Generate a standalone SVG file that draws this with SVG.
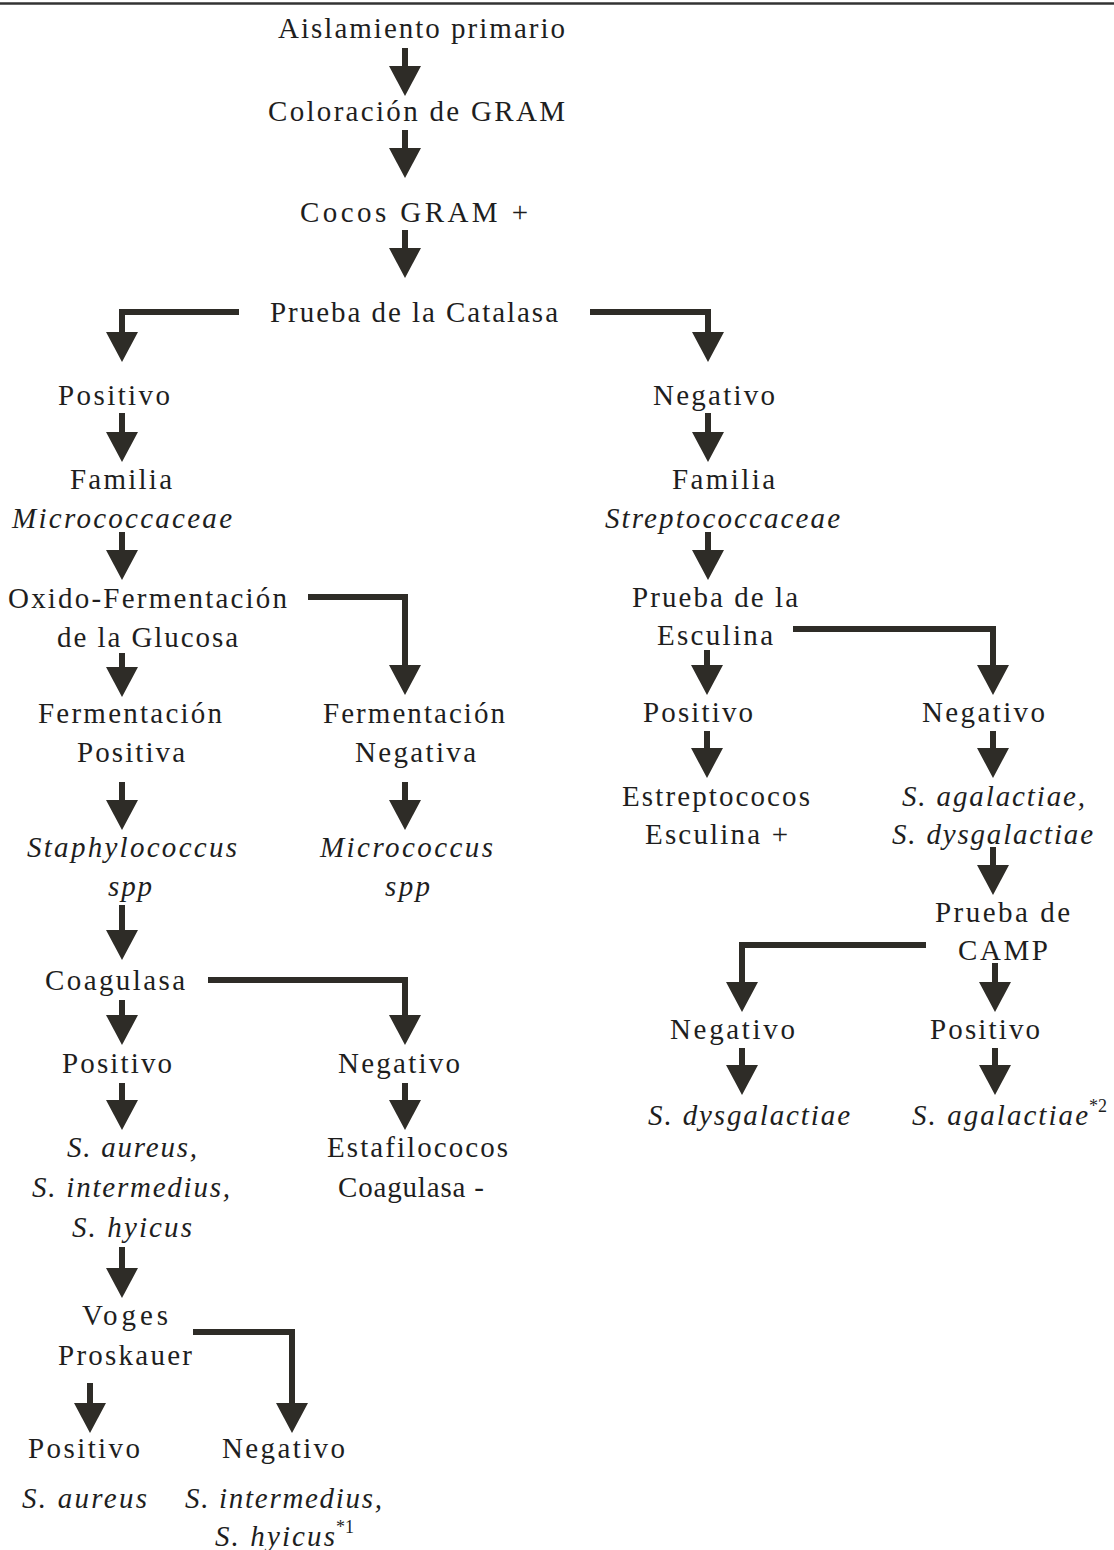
<svg xmlns="http://www.w3.org/2000/svg" width="1114" height="1550" viewBox="0 0 1114 1550">
<defs>
<style>
.t{font-family:"Liberation Serif","Times New Roman",serif;font-size:29px;fill:#1e1e1e;}
.i{font-style:italic;}
.sup{font-family:"Liberation Serif","Times New Roman",serif;font-size:18px;fill:#1e1e1e;}
.c{fill:none;stroke:#2e2c27;stroke-width:6;stroke-linejoin:miter;marker-end:url(#ah);}
</style>
<marker id="ah" markerUnits="userSpaceOnUse" markerWidth="32" markerHeight="30" viewBox="0 0 32 30" refX="16" refY="0" orient="0" overflow="visible">
<polygon points="0,0 32,0 16,30" fill="#2e2c27"/>
</marker>
</defs>
<rect width="1114" height="1550" fill="#ffffff"/>
<line x1="0" y1="3.5" x2="1114" y2="3.5" stroke="#333" stroke-width="2.5"/>

<g id="connectors">
<path class="c" d="M405,48 V66"/>
<path class="c" d="M405,130 V148"/>
<path class="c" d="M405,230 V248"/>
<path class="c" d="M239,312 H122 V332"/>
<path class="c" d="M590,312 H708 V332"/>
<path class="c" d="M122,413 V432"/>
<path class="c" d="M708,413 V432"/>
<path class="c" d="M122,532 V550"/>
<path class="c" d="M708,532 V550"/>
<path class="c" d="M122,653 V667"/>
<path class="c" d="M308,597 H405 V665"/>
<path class="c" d="M707,650 V665"/>
<path class="c" d="M793,629 H993 V665"/>
<path class="c" d="M122,782 V800"/>
<path class="c" d="M405,782 V800"/>
<path class="c" d="M707,731 V748"/>
<path class="c" d="M993,731 V748"/>
<path class="c" d="M993,847 V865"/>
<path class="c" d="M926,945 H742 V982"/>
<path class="c" d="M995,963 V982"/>
<path class="c" d="M742,1048 V1065"/>
<path class="c" d="M995,1048 V1065"/>
<path class="c" d="M122,905 V930"/>
<path class="c" d="M208,980 H405 V1015"/>
<path class="c" d="M122,1000 V1015"/>
<path class="c" d="M122,1083 V1100"/>
<path class="c" d="M405,1083 V1100"/>
<path class="c" d="M122,1247 V1268"/>
<path class="c" d="M193,1332 H292 V1403"/>
<path class="c" d="M90,1383 V1403"/>
</g>

<g id="n-aislamiento"><text class="t" x="278" y="38" textLength="287" lengthAdjust="spacing">Aislamiento primario</text></g>
<g id="n-gram"><text class="t" x="268" y="121" textLength="297" lengthAdjust="spacing">Coloración de GRAM</text></g>
<g id="n-cocos"><text class="t" x="300" y="222" textLength="228" lengthAdjust="spacing">Cocos GRAM +</text></g>
<g id="n-catalasa"><text class="t" x="270" y="322" textLength="288" lengthAdjust="spacing">Prueba de la Catalasa</text></g>

<g id="n-cat-pos"><text class="t" x="58" y="405" textLength="112" lengthAdjust="spacing">Positivo</text></g>
<g id="n-cat-neg"><text class="t" x="653" y="405" textLength="122" lengthAdjust="spacing">Negativo</text></g>

<g id="n-micrococcaceae">
<text class="t" x="70" y="489" textLength="102" lengthAdjust="spacing">Familia</text>
<text class="t i" x="12" y="528" textLength="220" lengthAdjust="spacing">Micrococcaceae</text>
</g>
<g id="n-streptococcaceae">
<text class="t" x="672" y="489" textLength="103" lengthAdjust="spacing">Familia</text>
<text class="t i" x="605" y="528" textLength="235" lengthAdjust="spacing">Streptococcaceae</text>
</g>

<g id="n-of">
<text class="t" x="8" y="608" textLength="279" lengthAdjust="spacing">Oxido-Fermentación</text>
<text class="t" x="57" y="647" textLength="181" lengthAdjust="spacing">de la Glucosa</text>
</g>
<g id="n-esculina">
<text class="t" x="632" y="607" textLength="166" lengthAdjust="spacing">Prueba de la</text>
<text class="t" x="657" y="645" textLength="116" lengthAdjust="spacing">Esculina</text>
</g>

<g id="n-ferm-pos">
<text class="t" x="38" y="723" textLength="184" lengthAdjust="spacing">Fermentación</text>
<text class="t" x="77" y="762" textLength="108" lengthAdjust="spacing">Positiva</text>
</g>
<g id="n-ferm-neg">
<text class="t" x="323" y="723" textLength="182" lengthAdjust="spacing">Fermentación</text>
<text class="t" x="355" y="762" textLength="121" lengthAdjust="spacing">Negativa</text>
</g>
<g id="n-esc-pos"><text class="t" x="643" y="722" textLength="110" lengthAdjust="spacing">Positivo</text></g>
<g id="n-esc-neg"><text class="t" x="922" y="722" textLength="123" lengthAdjust="spacing">Negativo</text></g>

<g id="n-staph">
<text class="t i" x="27" y="857" textLength="210" lengthAdjust="spacing">Staphylococcus</text>
<text class="t i" x="108" y="896" textLength="44" lengthAdjust="spacing">spp</text>
</g>
<g id="n-micrococcus">
<text class="t i" x="320" y="857" textLength="173" lengthAdjust="spacing">Micrococcus</text>
<text class="t i" x="385" y="896" textLength="45" lengthAdjust="spacing">spp</text>
</g>
<g id="n-estrepto-esc">
<text class="t" x="622" y="806" textLength="188" lengthAdjust="spacing">Estreptococos</text>
<text class="t" x="645" y="844" textLength="143" lengthAdjust="spacing">Esculina +</text>
</g>
<g id="n-agal-dysg">
<text class="t i" x="902" y="806" textLength="183" lengthAdjust="spacing">S. agalactiae,</text>
<text class="t i" x="892" y="844" textLength="201" lengthAdjust="spacing">S. dysgalactiae</text>
</g>

<g id="n-camp">
<text class="t" x="935" y="922" textLength="135" lengthAdjust="spacing">Prueba de</text>
<text class="t" x="958" y="960" textLength="90" lengthAdjust="spacing">CAMP</text>
</g>
<g id="n-camp-neg"><text class="t" x="670" y="1039" textLength="125" lengthAdjust="spacing">Negativo</text></g>
<g id="n-camp-pos"><text class="t" x="930" y="1039" textLength="110" lengthAdjust="spacing">Positivo</text></g>
<g id="n-dysg"><text class="t i" x="648" y="1125" textLength="202" lengthAdjust="spacing">S. dysgalactiae</text></g>
<g id="n-agal">
<text class="t i" x="912" y="1125" textLength="176" lengthAdjust="spacing">S. agalactiae</text>
<text class="sup" x="1089" y="1112">*2</text>
</g>

<g id="n-coagulasa"><text class="t" x="45" y="990" textLength="140" lengthAdjust="spacing">Coagulasa</text></g>
<g id="n-coag-pos"><text class="t" x="62" y="1073" textLength="110" lengthAdjust="spacing">Positivo</text></g>
<g id="n-coag-neg"><text class="t" x="338" y="1073" textLength="122" lengthAdjust="spacing">Negativo</text></g>
<g id="n-aureus-group">
<text class="t i" x="67" y="1157" textLength="130" lengthAdjust="spacing">S. aureus,</text>
<text class="t i" x="32" y="1197" textLength="198" lengthAdjust="spacing">S. intermedius,</text>
<text class="t i" x="72" y="1237" textLength="120" lengthAdjust="spacing">S. hyicus</text>
</g>
<g id="n-estafilo">
<text class="t" x="327" y="1157" textLength="181" lengthAdjust="spacing">Estafilococos</text>
<text class="t" x="338" y="1197" textLength="146" lengthAdjust="spacing">Coagulasa -</text>
</g>

<g id="n-vp">
<text class="t" x="82" y="1325" textLength="86" lengthAdjust="spacing">Voges</text>
<text class="t" x="58" y="1365" textLength="134" lengthAdjust="spacing">Proskauer</text>
</g>
<g id="n-vp-pos"><text class="t" x="28" y="1458" textLength="112" lengthAdjust="spacing">Positivo</text></g>
<g id="n-vp-neg"><text class="t" x="222" y="1458" textLength="123" lengthAdjust="spacing">Negativo</text></g>
<g id="n-aureus"><text class="t i" x="22" y="1508" textLength="125" lengthAdjust="spacing">S. aureus</text></g>
<g id="n-inter-hyicus">
<text class="t i" x="185" y="1508" textLength="197" lengthAdjust="spacing">S. intermedius,</text>
<text class="t i" x="215" y="1546" textLength="120" lengthAdjust="spacing">S. hyicus</text>
<text class="sup" x="336" y="1533">*1</text>
</g>
</svg>
